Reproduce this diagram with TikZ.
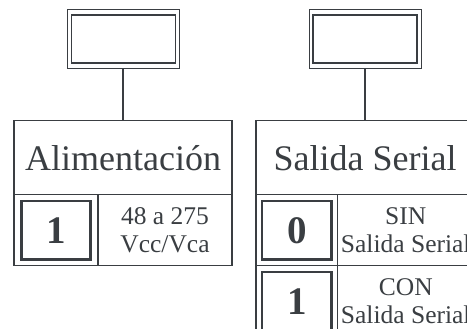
\documentclass[tikz,border=0pt]{standalone}
\usepackage{fontspec}
\setmainfont{Liberation Serif}
\usetikzlibrary{positioning}
\definecolor{ink}{RGB}{58,62,66}

\begin{document}
\begin{tikzpicture}[x=1pt, y=1pt, node distance=0pt, color=ink]

% Define styles
\tikzstyle{selouter} = [rectangle, draw=ink, line width=1pt, outer sep=0pt, inner sep=0pt, minimum width=112pt, minimum height=59.5pt]
\tikzstyle{selinner} = [rectangle, draw=ink, line width=1.6pt, outer sep=0pt, inner sep=0pt, minimum width=104pt, minimum height=48pt]
\tikzstyle{titlebox} = [rectangle, draw=ink, line width=1.2pt, outer sep=0pt, inner sep=0pt, minimum width=218pt, minimum height=74pt, font=\fontsize{36}{40}\selectfont]
\tikzstyle{keycell} = [rectangle, draw=ink, line width=1.2pt, outer sep=0pt, inner sep=0pt, minimum height=71pt]
\tikzstyle{textcell} = [rectangle, draw=ink, line width=1.2pt, outer sep=0pt, inner sep=0pt, minimum height=71pt, align=center, font=\fontsize{25.5}{28}\selectfont]
\tikzstyle{keybox} = [rectangle, draw=ink, line width=2.6pt, outer sep=0pt, inner sep=0pt, minimum width=69.5pt, minimum height=58.5pt, font=\fontsize{39}{40}\selectfont\bfseries]
\tikzstyle{line} = [line width=1.2pt, draw=ink]

\useasboundingbox (0,0) rectangle (467,-329);

% Alimentacion
\node (pwrsel) [selouter] at (123,-39) {};
\node (pwrselin) [selinner] at (123.5,-39) {};
\node (alim) [titlebox, below=52pt of pwrsel] {Alimentación};
\node (alimkey) [keycell, minimum width=84pt, below right=0pt and 0pt of alim.south west] {};
\node (alimval) [textcell, minimum width=134pt, below left=0pt and 0pt of alim.south east] {48 a 275\\Vcc/Vca};
\node (alimone) [keybox] at (alimkey) {1};
\draw [line] (pwrsel.south) -- (alim.north);

% Salida serial
\node (sersel) [selouter] at (365,-39) {};
\node (serselin) [selinner] at (365,-39) {};
\node (serial) [titlebox, below=52pt of sersel] {Salida Serial};
\node (sinkey) [keycell, minimum width=81.5pt, below right=0pt and 0pt of serial.south west] {};
\node (sinval) [textcell, minimum width=136.5pt, below left=0pt and 0pt of serial.south east] {SIN\\Salida Serial};
\node (conkey) [keycell, minimum width=81.5pt, below=0pt of sinkey] {};
\node (conval) [textcell, minimum width=136.5pt, below=0pt of sinval] {CON\\Salida Serial};
\node (sinzero) [keybox] at (sinkey) {0};
\node (conone) [keybox] at (conkey) {1};
\draw [line] (sersel.south) -- (serial.north);

\end{tikzpicture}
\end{document}
